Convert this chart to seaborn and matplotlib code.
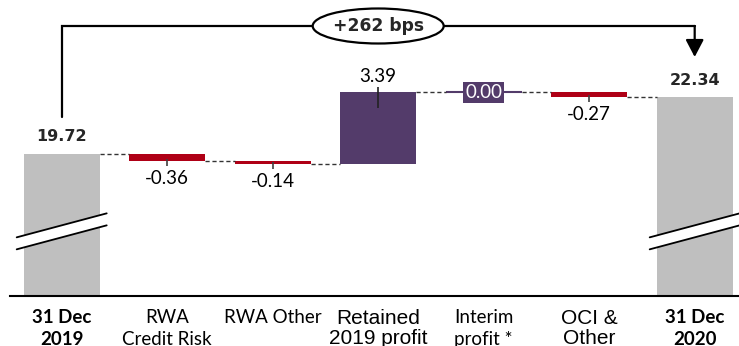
import matplotlib
matplotlib.use("Agg")
import matplotlib.pyplot as plt
import numpy as np
import seaborn as sns
from matplotlib.patches import Ellipse, Polygon

# ---------------------------------------------------------------- data
CATEGORIES = ["31 Dec\n2019", "RWA\nCredit Risk", "RWA Other", "Retained\n2019 profit",
              "Interim\nprofit *", "OCI &\nOther", "31 Dec\n2020"]
START = 19.72
DELTAS = [-0.36, -0.14, 3.39, 0.00, -0.27]
END = 22.34
CHANGE_LABEL = "+262 bps"
KINDS = ["total", "neg", "neg", "pos", "pos", "neg", "total"]

# ---------------------------------------------------------------- style
COLORS = {"total": "#BFBFBF", "neg": "#AF0016", "pos": "#533B6A"}
# (family, weight, size, linespacing) per category label
TICK_FONTS = [("Lato", "bold", 13.5, 1.36), ("Lato", "normal", 13.5, 1.36),
              ("Lato", "normal", 13.5, 1.36), ("Liberation Sans", "normal", 15, 1.05),
              ("Lato", "normal", 13.5, 1.36), ("Liberation Sans", "normal", 15, 1.05),
              ("Lato", "bold", 13.5, 1.36)]
FLOOR = 13.1          # value where the broken axis is cut
PX = 1 / 21.5         # data units per pixel (y)
BAR_W = 0.72

sns.set_theme(style="white")
plt.rcParams["font.family"] = ["Lato", "DejaVu Sans"]

levels = START + np.concatenate([[0], np.cumsum(DELTAS)])   # running total after each step
bottoms = [FLOOR] + list(levels[:-1]) + [FLOOR]
heights = [START - FLOOR] + DELTAS + [END - FLOOR]

fig = plt.figure(figsize=(7.39, 3.46), dpi=100)
ax = fig.add_axes([10 / 739, 50 / 346, 729 / 739, 296 / 346])

sns.barplot(x=CATEGORIES, y=heights, bottom=bottoms, width=BAR_W, saturation=1,
            color="#BFBFBF", ax=ax)
for patch, kind in zip(ax.patches, KINDS):
    patch.set_facecolor(COLORS[kind])
    patch.set_edgecolor("none")

n = len(CATEGORIES)
ax.set_xlim(-0.49, n - 0.58)
ax.set_ylim(FLOOR, FLOOR + 296 * PX)

# zero-height bar drawn as a thin line
for i, d in enumerate(DELTAS, start=1):
    if d == 0:
        ax.hlines(levels[i], i - BAR_W / 2, i + BAR_W / 2, color=COLORS[KINDS[i]], lw=1.5)

# dashed connectors
tops = [START] + list(levels[1:]) + [END]
for i in range(n - 1):
    ax.hlines(tops[i], i + BAR_W / 2, i + 1 - BAR_W / 2, color="#333333",
              lw=1, linestyles=(0, (3, 2)))

# value labels
value_font = dict(family=["Lato", "DejaVu Sans"], fontsize=13.5)
for i, d in enumerate(DELTAS, start=1):
    lo, hi = min(levels[i - 1], levels[i]), max(levels[i - 1], levels[i])
    txt = f"{d:.2f}"
    if d < 0:
        ax.vlines(i, lo - 5 * PX, lo + 2 * PX, color="#404040", lw=1.2)
        ax.annotate(txt, (i, lo), xytext=(0, -17), textcoords="offset pixels",
                    ha="center", va="center", color="black", **value_font)
    elif d > 0:
        ax.vlines(i, hi - 16 * PX, hi + 5 * PX, color="#222222", lw=1.2)
        ax.annotate(txt, (i, hi), xytext=(0, 15), textcoords="offset pixels",
                    ha="center", va="center", color="black", **value_font)
    else:
        ax.annotate(txt, (i, hi), xytext=(0, -1), textcoords="offset pixels",
                    ha="center", va="center", color="white", **value_font,
                    bbox=dict(boxstyle="square,pad=0.12", fc=COLORS["pos"], ec="none"))

for i, v in [(0, START), (n - 1, END)]:
    ax.annotate(f"{v:.2f}", (i, v), xytext=(0, 17), textcoords="offset pixels",
                ha="center", va="center", fontsize=11.5, fontweight="bold",
                family=["DejaVu Sans"])

# axis break marks on the total bars
for i in (0, n - 1):
    hw = 45 / 105.5
    y0 = 15.27
    rise, gap = 24 * PX, 12 * PX
    ax.add_patch(Polygon([(i - hw, y0), (i + hw, y0 + rise), (i + hw, y0 + rise + gap),
                          (i - hw, y0 + gap)], closed=True, fc="white", ec="none", zorder=4))
    for off in (0, gap):
        ax.plot([i - hw, i + hw], [y0 + off, y0 + rise + off], color="black", lw=1.3, zorder=5)

# bracket with change label
ytop = FLOOR + 270 * PX
ax.plot([0, 0, n - 1], [FLOOR + 179 * PX, ytop, ytop], color="black", lw=1.6,
        solid_joinstyle="miter")
ax.annotate("", xy=(n - 1, FLOOR + 239 * PX), xytext=(n - 1, ytop),
            arrowprops=dict(arrowstyle="-|>,head_length=1.05,head_width=0.55",
                            mutation_scale=10, lw=1.6, color="black",
                            shrinkA=0, shrinkB=0))
ax.add_patch(Ellipse(((n - 1) / 2, ytop), 131 / 105.5, 35 * PX, fc="white", ec="black",
                     lw=1.6, zorder=6))
ax.text((n - 1) / 2, ytop, CHANGE_LABEL, ha="center", va="center", fontsize=12.3,
        fontweight="bold", family=["DejaVu Sans"], zorder=7)

# axes styling
for side in ("left", "top", "right"):
    ax.spines[side].set_visible(False)
ax.spines["bottom"].set_color("black")
ax.spines["bottom"].set_linewidth(1.5)
ax.set_yticks([])
ax.set_xlabel("")
ax.set_ylabel("")
ax.set_xticks(range(n))
ax.set_xticklabels(CATEGORIES)
ax.tick_params(axis="x", length=0, pad=9.6, colors="black")
for lab, (fam, wt, size, ls) in zip(ax.get_xticklabels(), TICK_FONTS):
    lab.set_family([fam, "DejaVu Sans"])
    lab.set_fontweight(wt)
    lab.set_fontsize(size)
    lab.set_linespacing(ls)
    lab.set_verticalalignment("top")

fig.savefig("out.png", dpi=100)
